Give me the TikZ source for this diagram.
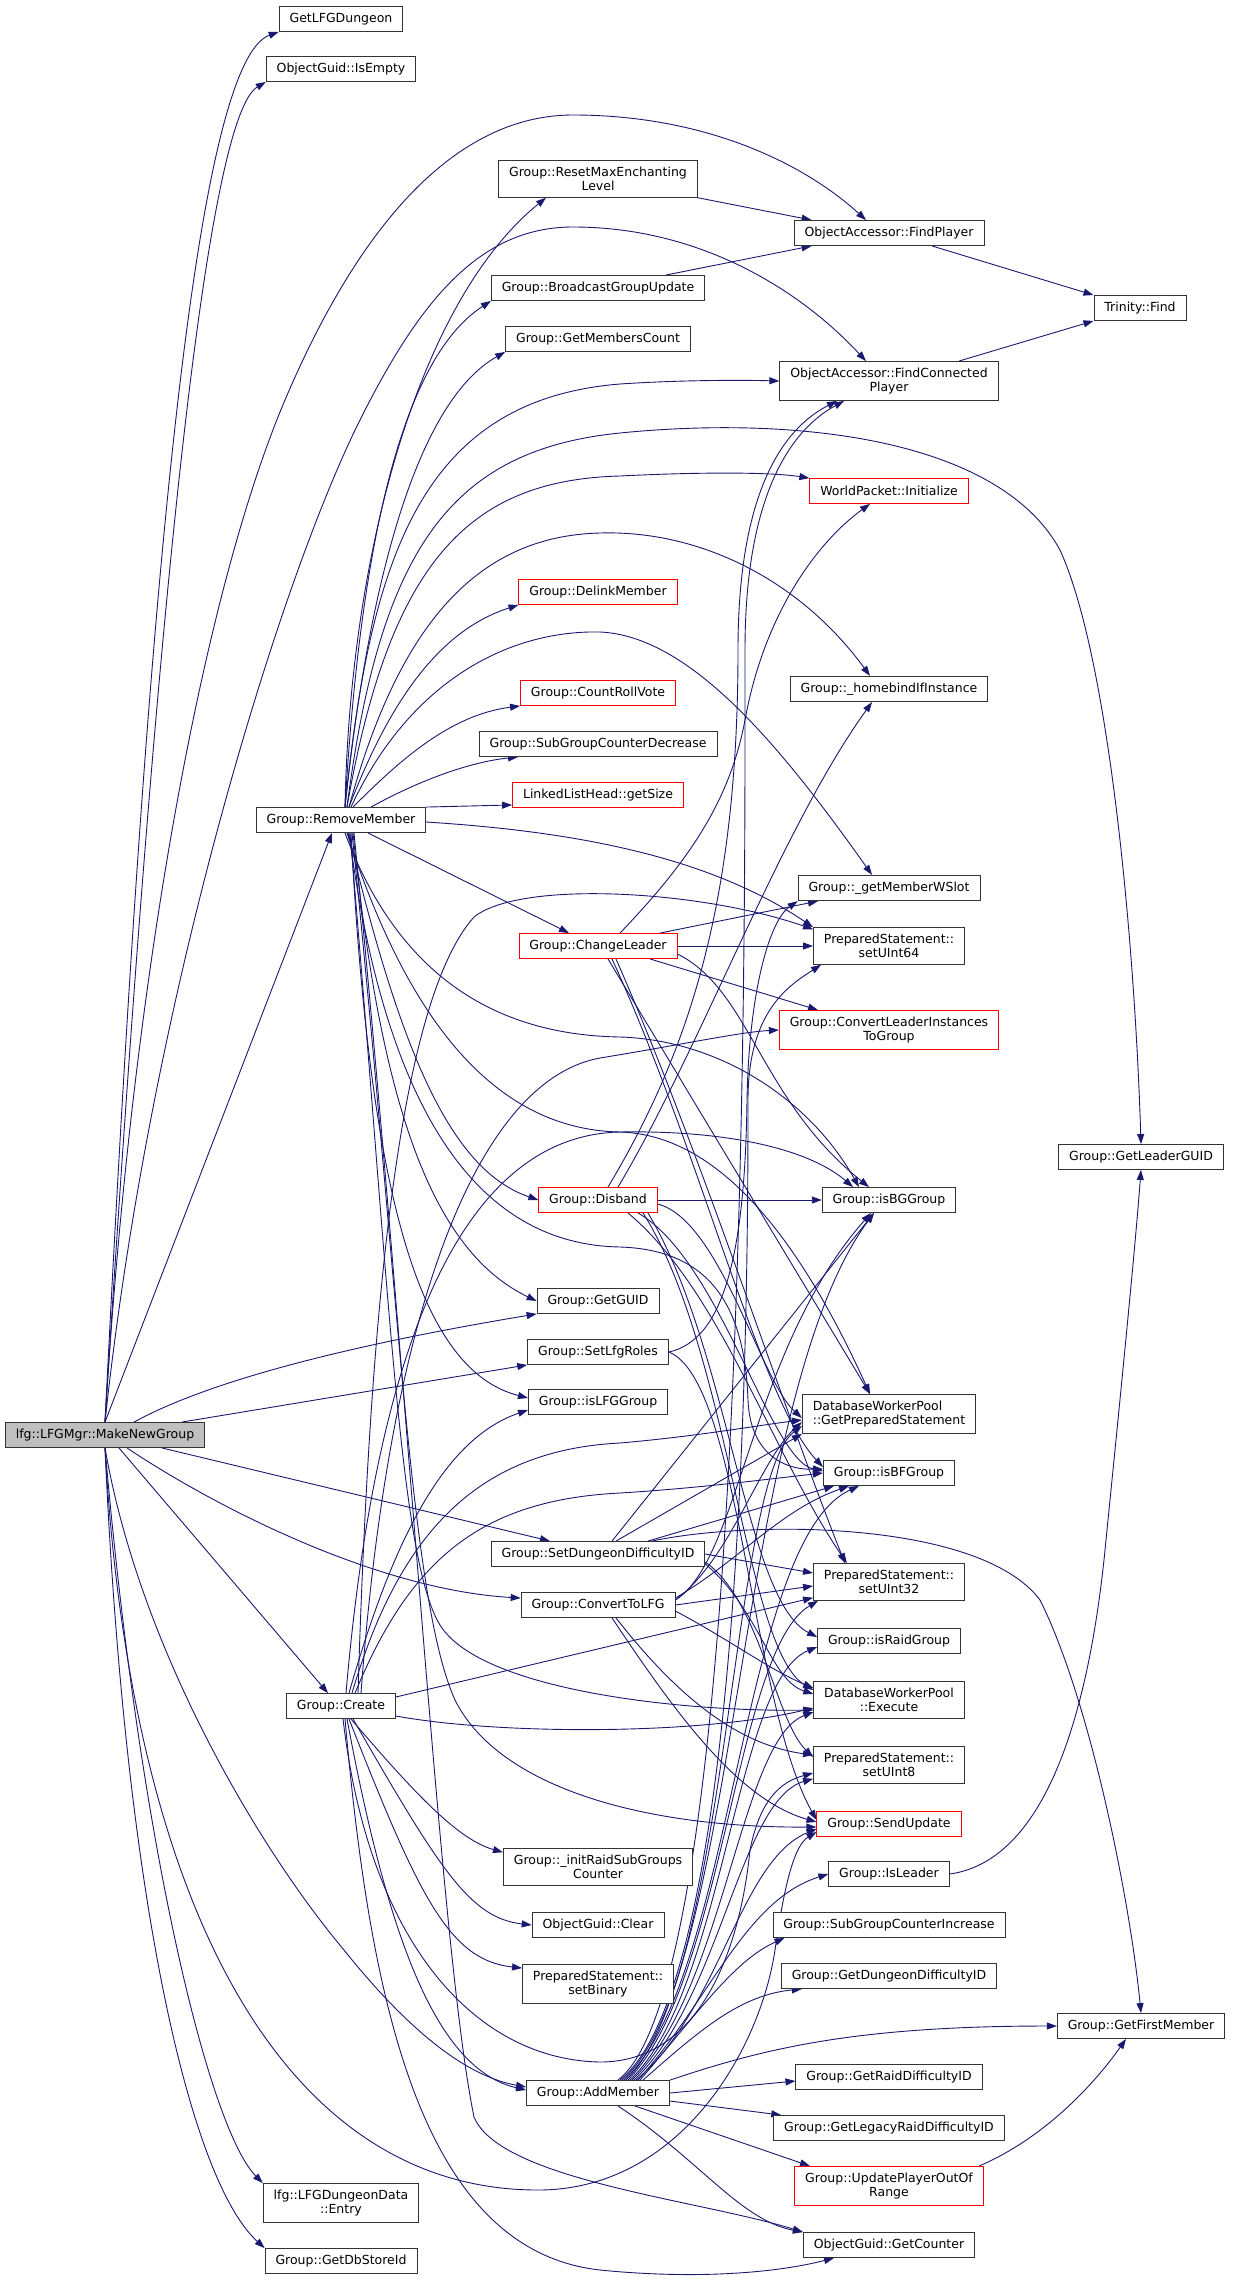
\documentclass[tikz,border=0pt]{standalone}
\usepackage{fontspec}
\setmainfont{DejaVu Sans}
\usetikzlibrary{arrows.meta,backgrounds}
\definecolor{edgeblue}{RGB}{25,25,112}
\definecolor{rootgray}{RGB}{191,191,191}

\begin{document}
\begin{tikzpicture}[
  x=1pt, y=1pt,
  fnnode/.style={draw=black!80, line width=0.8pt, fill=white, align=center,
    font=\fontsize{12.5}{14}\selectfont, inner xsep=10.5pt, inner ysep=6.5pt, minimum height=25pt},
  rednode/.style={fnnode, draw=red},
  rootnode/.style={fnnode, fill=rootgray},
  callarrow/.style={draw=edgeblue, line width=0.9pt, -{Triangle[length=10pt,width=7pt]}}
]
\useasboundingbox (0,0) rectangle (1232,-2282);

\node[rootnode] (mng) at (105,-1435) {lfg::LFGMgr::MakeNewGroup};

\node[fnnode] (lfgdng) at (341,-19) {GetLFGDungeon};
\node[fnnode] (isempty) at (341,-69) {ObjectGuid::IsEmpty};
\node[fnnode] (remove) at (341,-820) {Group::RemoveMember};
\node[fnnode] (create) at (341,-1706) {Group::Create};
\node[fnnode] (entry) at (341,-2203) {lfg::LFGDungeonData\\::Entry};
\node[fnnode] (dbstore) at (341,-2261) {Group::GetDbStoreId};

\node[fnnode] (resetmax) at (598,-179) {Group::ResetMaxEnchanting\\Level};
\node[fnnode] (bcast) at (598,-288) {Group::BroadcastGroupUpdate};
\node[fnnode] (memcount) at (598,-339) {Group::GetMembersCount};
\node[rednode] (delink) at (598,-592) {Group::DelinkMember};
\node[rednode] (countroll) at (598,-693) {Group::CountRollVote};
\node[fnnode] (subdec) at (598,-744) {Group::SubGroupCounterDecrease};
\node[rednode] (getsize) at (598,-795) {LinkedListHead::getSize};
\node[rednode] (chleader) at (598,-946) {Group::ChangeLeader};
\node[rednode] (disband) at (598,-1200) {Group::Disband};
\node[fnnode] (getguid) at (598,-1301) {Group::GetGUID};
\node[fnnode] (lfgroles) at (598,-1352) {Group::SetLfgRoles};
\node[fnnode] (islfg) at (598,-1402) {Group::isLFGGroup};
\node[fnnode] (setdiff) at (598,-1554) {Group::SetDungeonDifficultyID};
\node[fnnode] (tolfg) at (598,-1605) {Group::ConvertToLFG};
\node[fnnode] (initraid) at (598,-1867) {Group::\_initRaidSubGroups\\Counter};
\node[fnnode] (clear) at (598,-1925) {ObjectGuid::Clear};
\node[fnnode] (setbin) at (598,-1984) {PreparedStatement::\\setBinary};
\node[fnnode] (addmem) at (598,-2093) {Group::AddMember};

\node[fnnode] (findpl) at (889,-233) {ObjectAccessor::FindPlayer};
\node[fnnode] (findcon) at (889,-381) {ObjectAccessor::FindConnected\\Player};
\node[rednode] (wpinit) at (889,-491) {WorldPacket::Initialize};
\node[fnnode] (homebind) at (889,-689) {Group::\_homebindIfInstance};
\node[fnnode] (memwslot) at (889,-888) {Group::\_getMemberWSlot};
\node[fnnode] (set64) at (889,-946) {PreparedStatement::\\setUInt64};
\node[rednode] (convlead) at (889,-1030) {Group::ConvertLeaderInstances\\ToGroup};
\node[fnnode] (isbg) at (889,-1200) {Group::isBGGroup};
\node[fnnode, align=left] (getps) at (889,-1414) {DatabaseWorkerPool\\::GetPreparedStatement};
\node[fnnode] (isbf) at (889,-1473) {Group::isBFGroup};
\node[fnnode] (set32) at (889,-1582) {PreparedStatement::\\setUInt32};
\node[fnnode] (israid) at (889,-1641) {Group::isRaidGroup};
\node[fnnode] (execute) at (889,-1700) {DatabaseWorkerPool\\::Execute};
\node[fnnode] (set8) at (889,-1765) {PreparedStatement::\\setUInt8};
\node[rednode] (sendupd) at (889,-1824) {Group::SendUpdate};
\node[fnnode] (isleader) at (889,-1874) {Group::IsLeader};
\node[fnnode] (subinc) at (889,-1925) {Group::SubGroupCounterIncrease};
\node[fnnode] (getdungdiff) at (889,-1976) {Group::GetDungeonDifficultyID};
\node[fnnode] (getraiddiff) at (889,-2077) {Group::GetRaidDifficultyID};
\node[fnnode] (getlegacy) at (889,-2128) {Group::GetLegacyRaidDifficultyID};
\node[rednode] (updoor) at (889,-2186) {Group::UpdatePlayerOutOf\\Range};
\node[fnnode] (getcounter) at (889,-2245) {ObjectGuid::GetCounter};

\node[fnnode] (find) at (1140,-308) {Trinity::Find};
\node[fnnode] (leaderguid) at (1141,-1157) {Group::GetLeaderGUID};
\node[fnnode] (firstmem) at (1141,-2026) {Group::GetFirstMember};

\begin{scope}[on background layer]
% MakeNewGroup
\draw[callarrow] (mng.north) .. controls (150,-520) and (200,-60) .. (lfgdng.south west);
\draw[callarrow] (mng.north) .. controls (160,-540) and (210,-115) .. (isempty.south west);
\draw[callarrow] (mng.north) .. controls (130,-1000) and (200,-600) .. (285,-400) .. controls (370,-200) and (470,-115) .. (573,-115) .. controls (700,-115) and (800,-160) .. ([xshift=-23pt]findpl.north);
\draw[callarrow] (mng.north) .. controls (150,-1000) and (280,-580) .. (360,-420) .. controls (420,-300) and (480,-227) .. (573,-227) .. controls (700,-227) and (800,-290) .. ([xshift=-23pt]findcon.north);
\draw[callarrow] (mng.north) -- ([xshift=-9pt]remove.south);
\draw[callarrow] ([xshift=29pt]mng.north) .. controls (220,-1375) and (380,-1340) .. (getguid.south west);
\draw[callarrow] ([xshift=77pt]mng.north) -- (lfgroles.south west);
\draw[callarrow] ([xshift=57pt]mng.south) -- ([xshift=-48pt]setdiff.north);
\draw[callarrow] ([xshift=22pt]mng.south) .. controls (220,-1510) and (380,-1590) .. ([yshift=7pt]tolfg.west);
\draw[callarrow] ([xshift=14pt]mng.south) -- ([xshift=-13pt]create.north);
\draw[callarrow] (mng.south) .. controls (140,-1650) and (260,-1850) .. (344,-1950) .. controls (400,-2020) and (460,-2075) .. ([yshift=6pt]addmem.west);
\draw[callarrow] (mng.south) .. controls (130,-1900) and (280,-2190) .. (538,-2190) .. controls (680,-2190) and (760,-2050) .. (775,-1950) .. controls (785,-1880) and (795,-1845) .. ([yshift=-8pt]sendupd.west);
\draw[callarrow] (mng.south) .. controls (140,-1850) and (210,-2130) .. (entry.north west);
\draw[callarrow] (mng.south) .. controls (125,-1900) and (190,-2180) .. (dbstore.north west);
% RemoveMember
\draw[callarrow] ([xshift=4pt]remove.north) .. controls (350,-550) and (420,-300) .. ([xshift=-52pt]resetmax.south);
\draw[callarrow] ([xshift=4pt]remove.north) .. controls (360,-550) and (400,-360) .. (bcast.south west);
\draw[callarrow] ([xshift=4pt]remove.north) .. controls (370,-570) and (420,-400) .. (memcount.south west);
\draw[callarrow] ([xshift=4pt]remove.north) .. controls (370,-560) and (420,-400) .. (620,-384) .. controls (680,-380) and (740,-380) .. (findcon.west);
\draw[callarrow] ([xshift=6pt]remove.north) .. controls (380,-550) and (450,-450) .. (620,-433) .. controls (800,-415) and (1000,-440) .. (1060,-550) .. controls (1110,-660) and (1135,-950) .. (leaderguid.north);
\draw[callarrow] ([xshift=6pt]remove.north) .. controls (390,-560) and (470,-480) .. (620,-476) .. controls (700,-472) and (770,-472) .. (wpinit.north west);
\draw[callarrow] ([xshift=8pt]remove.north) .. controls (390,-700) and (440,-630) .. (delink.south west);
\draw[callarrow] ([xshift=8pt]remove.north) .. controls (400,-620) and (480,-536) .. (600,-533) .. controls (700,-530) and (800,-580) .. ([xshift=-19pt]homebind.north);
\draw[callarrow] ([xshift=12pt]remove.north) .. controls (400,-760) and (450,-715) .. (countroll.south west);
\draw[callarrow] ([xshift=10pt]remove.north) .. controls (410,-680) and (510,-630) .. (600,-632) .. controls (690,-636) and (780,-745) .. ([xshift=-17pt]memwslot.north);
\draw[callarrow] ([xshift=30pt]remove.north) .. controls (420,-780) and (470,-762) .. ([xshift=-80pt]subdec.south);
\draw[callarrow] (remove.north east) -- ([yshift=3pt]getsize.south west);
\draw[callarrow] ([yshift=-2pt]remove.east) .. controls (550,-830) and (700,-850) .. (set64.north west);
\draw[callarrow] ([xshift=27pt]remove.south) -- ([xshift=-29pt]chleader.north);
\draw[callarrow] ([xshift=4pt]remove.south) .. controls (400,-980) and (500,-1035) .. (620,-1037) .. controls (720,-1040) and (810,-1100) .. ([xshift=-30pt]isbg.north);
\draw[callarrow] ([xshift=6pt]remove.south) .. controls (420,-1060) and (520,-1130) .. (620,-1132) .. controls (720,-1135) and (800,-1240) .. ([xshift=-19pt]getps.north);
\draw[callarrow] ([xshift=7pt]remove.south) .. controls (400,-1050) and (450,-1170) .. (disband.west);
\draw[callarrow] ([xshift=8pt]remove.south) .. controls (390,-1150) and (500,-1245) .. (620,-1247) .. controls (720,-1250) and (745,-1320) .. (748,-1400) .. controls (750,-1450) and (780,-1470) .. ([yshift=4pt]isbf.west);
\draw[callarrow] ([xshift=10pt]remove.south) .. controls (370,-1200) and (420,-1370) .. ([yshift=4pt]islfg.west);
\draw[callarrow] ([xshift=12pt]remove.south) .. controls (380,-1100) and (430,-1250) .. (getguid.west);
\draw[callarrow] ([xshift=9pt]remove.south) .. controls (390,-1300) and (400,-1560) .. (440,-1625) .. controls (480,-1690) and (680,-1712) .. ([yshift=-10pt]execute.west);
\draw[callarrow] ([xshift=11pt]remove.south) .. controls (400,-1300) and (410,-1600) .. (455,-1700) .. controls (500,-1790) and (650,-1828) .. ([yshift=-3pt]sendupd.west);
\draw[callarrow] ([xshift=13pt]remove.south) .. controls (410,-1400) and (440,-1950) .. (474,-2117) .. controls (500,-2180) and (700,-2200) .. (getcounter.north west);
% ChangeLeader
\draw[callarrow] ([xshift=22pt]chleader.north) .. controls (690,-860) and (730,-800) .. (745,-720) .. controls (765,-610) and (820,-540) .. ([xshift=-19pt]wpinit.south);
\draw[callarrow] ([xshift=62pt]chleader.north) -- ([xshift=-71pt]memwslot.south);
\draw[callarrow] (chleader.east) -- (set64.west);
\draw[callarrow] ([xshift=52pt]chleader.south) -- ([xshift=-71pt]convlead.north);
\draw[callarrow] ([yshift=-8pt]chleader.east) .. controls (750,-990) and (760,-1100) .. ([xshift=-20pt]isbg.north);
\draw[callarrow] ([xshift=10pt]chleader.south) -- ([xshift=-19pt]getps.north);
\draw[callarrow] ([xshift=14pt]chleader.south) .. controls (700,-1150) and (760,-1400) .. ([yshift=6pt]isbf.west);
\draw[callarrow] ([xshift=18pt]chleader.south) .. controls (700,-1150) and (780,-1400) .. ([xshift=-44pt]set32.north);
% Disband
\draw[callarrow] (disband.east) -- (isbg.west);
\draw[callarrow] ([xshift=10pt]disband.north) .. controls (690,-1050) and (738,-900) .. (738,-650) .. controls (738,-480) and (790,-425) .. ([xshift=-52pt]findcon.south);
\draw[callarrow] ([xshift=20pt]disband.north) .. controls (700,-1050) and (780,-830) .. ([xshift=-17pt]homebind.south);
\draw[callarrow] ([yshift=-4pt]disband.east) .. controls (720,-1220) and (760,-1380) .. ([yshift=-4pt]getps.west);
\draw[callarrow] ([xshift=40pt]disband.south) .. controls (720,-1260) and (770,-1460) .. ([yshift=2pt]isbf.west);
\draw[callarrow] ([xshift=30pt]disband.south) .. controls (720,-1290) and (770,-1450) .. ([xshift=-42pt]set32.north);
\draw[callarrow] ([xshift=50pt]disband.south) .. controls (730,-1350) and (745,-1600) .. ([yshift=4pt]israid.west);
\draw[callarrow] ([xshift=45pt]disband.south) .. controls (730,-1350) and (745,-1650) .. ([yshift=10pt]execute.west);
% Create
\draw[callarrow] ([xshift=8pt]create.north) .. controls (390,-1550) and (440,-1440) .. ([yshift=-8pt]islfg.west);
\draw[callarrow] ([xshift=11pt]create.north) .. controls (400,-1530) and (480,-1450) .. (620,-1443) .. controls (700,-1436) and (760,-1425) .. ([yshift=-6pt]getps.west);
\draw[callarrow] ([xshift=14pt]create.north) .. controls (410,-1560) and (480,-1500) .. (620,-1493) .. controls (700,-1488) and (760,-1480) .. (isbf.west);
\draw[callarrow] ([xshift=5pt]create.north) .. controls (380,-1300) and (480,-1135) .. (620,-1132) .. controls (730,-1130) and (810,-1150) .. ([xshift=-36pt]isbg.north);
\draw[callarrow] ([xshift=17pt]create.north) .. controls (370,-1300) and (400,-1000) .. (474,-917) .. controls (520,-880) and (700,-890) .. ([yshift=-2pt]set64.north west);
\draw[callarrow] ([xshift=20pt]create.north) .. controls (390,-1300) and (480,-1080) .. (600,-1058) .. controls (680,-1045) and (740,-1032) .. (convlead.west);
\draw[callarrow] ([yshift=9pt]create.east) -- ([yshift=3pt]set32.south west);
\draw[callarrow] ([yshift=-10pt]create.east) .. controls (500,-1735) and (700,-1735) .. ([yshift=-8pt]execute.west);
\draw[callarrow] ([xshift=10pt]create.south) .. controls (420,-1800) and (460,-1840) .. ([yshift=-4pt]initraid.north west);
\draw[callarrow] ([xshift=12pt]create.south) .. controls (440,-1870) and (470,-1918) .. (clear.west);
\draw[callarrow] ([xshift=8pt]create.south) .. controls (420,-1900) and (450,-1960) .. ([yshift=-4pt]setbin.north west);
\draw[callarrow] ([xshift=6pt]create.south) .. controls (390,-1950) and (440,-2070) .. ([yshift=3pt]addmem.west);
\draw[callarrow] ([xshift=4pt]create.south) .. controls (370,-2000) and (420,-2250) .. (600,-2270) .. controls (700,-2280) and (780,-2272) .. ([xshift=-55pt]getcounter.south);
\draw[callarrow] ([xshift=2pt]create.south) .. controls (370,-1950) and (480,-2060) .. (600,-2062) .. controls (700,-2062) and (740,-1950) .. (750,-1850) .. controls (760,-1800) and (780,-1782) .. ([yshift=-8pt]set8.west);
% AddMember
\draw[callarrow] ([xshift=45pt]addmem.north) .. controls (700,-2030) and (740,-1995) .. ([xshift=21pt]getdungdiff.south west);
\draw[callarrow] ([xshift=42pt]addmem.north) .. controls (700,-2010) and (735,-1960) .. ([xshift=12pt]subinc.south west);
\draw[callarrow] ([xshift=40pt]addmem.north) .. controls (710,-2000) and (745,-1900) .. (isleader.west);
\draw[callarrow] ([xshift=38pt]addmem.north) .. controls (720,-2010) and (740,-1860) .. ([yshift=-5pt]sendupd.west);
\draw[callarrow] ([xshift=36pt]addmem.north) .. controls (720,-2000) and (740,-1800) .. ([yshift=5pt]set8.south west);
\draw[callarrow] ([xshift=34pt]addmem.north) .. controls (725,-1990) and (740,-1740) .. ([yshift=-12pt]execute.west);
\draw[callarrow] ([xshift=32pt]addmem.north) .. controls (725,-1990) and (735,-1680) .. ([yshift=-6pt]israid.west);
\draw[callarrow] ([xshift=30pt]addmem.north) .. controls (725,-1980) and (735,-1650) .. ([xshift=5pt]set32.south west);
\draw[callarrow] ([xshift=28pt]addmem.north) .. controls (730,-1980) and (730,-1480) .. ([yshift=-12pt]getps.west);
\draw[callarrow] ([xshift=26pt]addmem.north) .. controls (735,-1980) and (740,-1540) .. ([xshift=-30pt]isbf.south);
\draw[callarrow] ([xshift=24pt]addmem.north) .. controls (740,-1980) and (735,-1400) .. ([xshift=-15pt]isbg.south);
\draw[callarrow] ([xshift=22pt]addmem.north) .. controls (745,-1980) and (748,-1300) .. (748,-1100) .. controls (748,-1010) and (790,-985) .. ([xshift=8pt]set64.south west);
\draw[callarrow] ([xshift=20pt]addmem.north) .. controls (750,-1980) and (745,-900) .. (745,-650) .. controls (745,-480) and (800,-425) .. ([xshift=-45pt]findcon.south);
\draw[callarrow] (addmem.north east) .. controls (760,-2050) and (850,-2026) .. (firstmem.west);
\draw[callarrow] (addmem.east) -- ([yshift=-4pt]getraiddiff.west);
\draw[callarrow] ([yshift=-8pt]addmem.east) -- ([xshift=8pt]getlegacy.north west);
\draw[callarrow] ([xshift=37pt]addmem.south) -- ([xshift=-79pt]updoor.north);
\draw[callarrow] ([xshift=20pt]addmem.south) .. controls (700,-2160) and (740,-2220) .. (getcounter.north west);
% SetDungeonDifficultyID
\draw[callarrow] ([xshift=54pt]setdiff.north) .. controls (750,-1520) and (980,-1520) .. (1040,-1600) .. controls (1090,-1700) and (1130,-1900) .. (firstmem.north);
\draw[callarrow] ([xshift=14pt]setdiff.north) -- ([xshift=-15pt]isbg.south);
\draw[callarrow] ([xshift=18pt]setdiff.north) -- (getps.south west);
\draw[callarrow] ([xshift=50pt]setdiff.north) -- ([xshift=-55pt]isbf.south);
\draw[callarrow] (setdiff.east) -- ([yshift=9pt]set32.west);
\draw[callarrow] ([yshift=-8pt]setdiff.east) .. controls (760,-1600) and (775,-1720) .. ([yshift=8pt]set8.west);
\draw[callarrow] ([yshift=-10pt]setdiff.east) .. controls (760,-1610) and (770,-1680) .. ([yshift=6pt]execute.west);
% ConvertToLFG
\draw[callarrow] ([yshift=5pt]tolfg.east) .. controls (740,-1560) and (750,-1350) .. ([xshift=-18pt]isbg.south);
\draw[callarrow] ([yshift=5pt]tolfg.east) .. controls (730,-1560) and (760,-1460) .. ([yshift=-8pt]getps.west);
\draw[callarrow] ([yshift=7pt]tolfg.east) .. controls (740,-1560) and (780,-1510) .. ([xshift=-40pt]isbf.south);
\draw[callarrow] (tolfg.east) -- ([yshift=-4pt]set32.west);
\draw[callarrow] ([yshift=-6pt]tolfg.east) .. controls (730,-1640) and (770,-1670) .. ([yshift=12pt]execute.west);
\draw[callarrow] ([xshift=14pt]tolfg.south) .. controls (680,-1720) and (740,-1800) .. ([yshift=2pt]sendupd.west);
\draw[callarrow] ([xshift=18pt]tolfg.south) .. controls (680,-1700) and (740,-1745) .. ([yshift=10pt]set8.west);
% SetLfgRoles
\draw[callarrow] (lfgroles.east) .. controls (725,-1340) and (745,-1250) .. (747,-1100) .. controls (749,-990) and (770,-920) .. (memwslot.south west);
\draw[callarrow] (lfgroles.east) .. controls (740,-1380) and (750,-1700) .. ([yshift=4pt]sendupd.west);
% others
\draw[callarrow] (resetmax.south east) -- ([xshift=18pt]findpl.north west);
\draw[callarrow] ([xshift=68pt]bcast.north) -- ([xshift=18pt]findpl.south west);
\draw[callarrow] ([xshift=43pt]findpl.south) -- (find.north west);
\draw[callarrow] ([xshift=70pt]findcon.north) -- (find.south west);
\draw[callarrow] (isleader.east) .. controls (1050,-1860) and (1090,-1700) .. (1105,-1550) .. controls (1120,-1400) and (1135,-1250) .. (leaderguid.south);
\draw[callarrow] ([xshift=90pt]updoor.north) .. controls (1040,-2140) and (1090,-2090) .. ([xshift=-15pt]firstmem.south);
\end{scope}
\end{tikzpicture}
\end{document}
